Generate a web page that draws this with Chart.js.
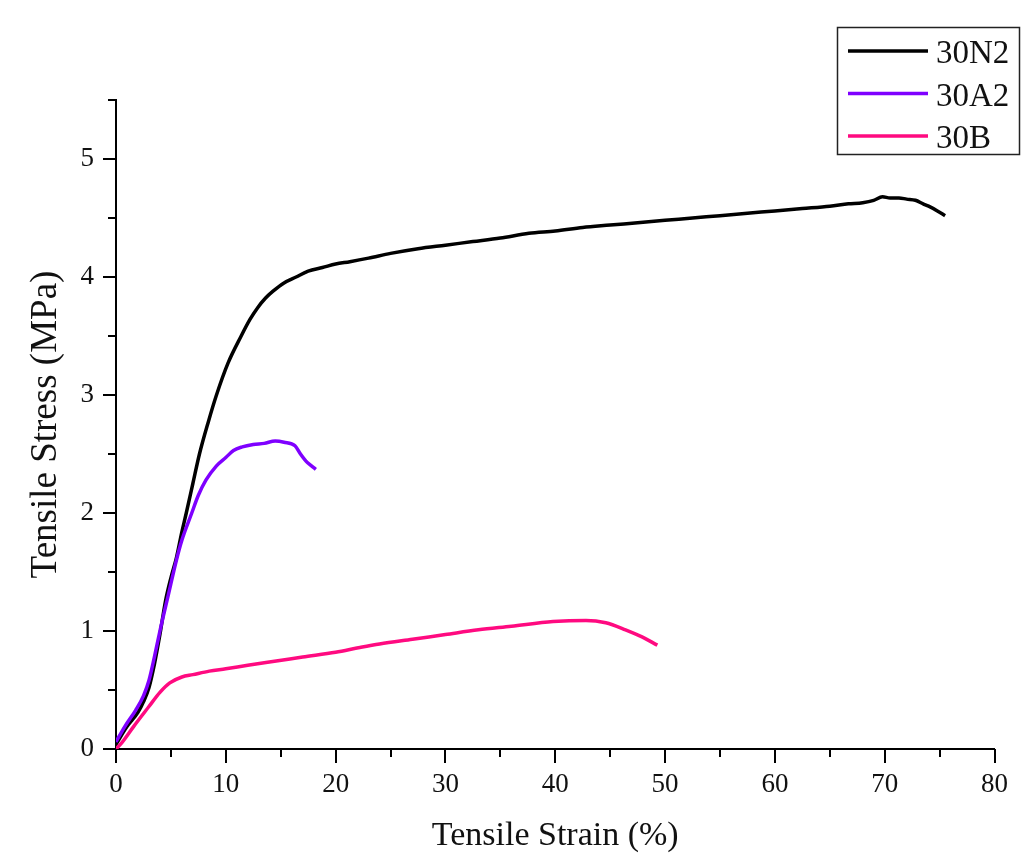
<!DOCTYPE html>
<html>
<head>
<meta charset="utf-8">
<script src="https://cdn.jsdelivr.net/npm/chart.js@4/dist/chart.umd.min.js"></script>
<style>
  html, body { margin: 0; padding: 0; background: #fff; }
  #wrap { width: 1028px; height: 864px; }
</style>
</head>
<body>
<div id="wrap"><canvas id="myChart" width="1028" height="864"></canvas></div>
<script>
// tensile test curves, strain in %, stress in MPa
const seriesNames = ['30N2', '30A2', '30B'];
const seriesColors = ['#000000', '#7f00ff', '#ff0a80'];

const n2Strain = [0, 1, 2, 2.5, 3, 3.5, 4, 4.5, 5, 5.5, 6, 6.4, 7, 7.6, 8.4, 9.15, 10.2, 11.4, 12.2, 12.9, 13.6, 14.3, 15.3, 16.4,
  17.5, 18.8, 20, 21.3, 23, 25, 27.5, 30, 32.5, 35, 37.6, 40, 42.5, 45, 47.5, 50, 52.5, 55, 57.5, 60, 62.5, 65,
  66.7, 68, 69, 69.8, 70.5, 71.3, 72, 72.8, 73.5, 74, 74.8, 75.5];
const n2Stress = [0.04, 0.19, 0.31, 0.4, 0.52, 0.72, 0.97, 1.25, 1.45, 1.62, 1.84, 2.0, 2.25, 2.5, 2.77, 3.0, 3.27, 3.5, 3.64, 3.74, 3.82, 3.88, 3.95, 4.0,
  4.05, 4.08, 4.11, 4.13, 4.16, 4.2, 4.24, 4.27, 4.3, 4.33, 4.37, 4.39, 4.42, 4.44, 4.46, 4.48, 4.5, 4.52, 4.54, 4.56, 4.58, 4.6,
  4.62, 4.63, 4.65, 4.68, 4.67, 4.67, 4.66, 4.65, 4.62, 4.6, 4.56, 4.52];

const a2Strain = [0, 0.8, 1.8, 2.5, 3, 3.5, 4, 4.75, 5.5, 6, 6.9, 7.5, 8.2, 9.15, 10, 10.7, 11.5, 12.5, 13.5, 14.5,
  15.3, 16.3, 16.8, 17.3, 17.8, 18.2];
const a2Stress = [0.06, 0.19, 0.33, 0.45, 0.58, 0.78, 1.0, 1.3, 1.6, 1.77, 2.0, 2.15, 2.28, 2.4, 2.47, 2.53, 2.56, 2.58, 2.59, 2.61,
  2.6, 2.57, 2.5, 2.44, 2.4, 2.37];

const bStrain = [0, 0.5, 1.6, 3, 4, 4.9, 6, 7, 8.5, 10, 12, 14.9, 17, 20, 22.2, 24, 27, 30, 33, 36, 39.8, 42.8,
  44.6, 46.4, 47.9, 49.3];
const bStress = [0, 0.05, 0.19, 0.36, 0.48, 0.56, 0.61, 0.63, 0.66, 0.68, 0.71, 0.75, 0.78, 0.82, 0.86, 0.89, 0.93, 0.97, 1.01, 1.04, 1.08, 1.09,
  1.07, 1.01, 0.95, 0.88];

const xTicks = [0, 10, 20, 30, 40, 50, 60, 70, 80];
const yTicks = [0, 1, 2, 3, 4, 5];

const toPoints = (xs, ys) => xs.map((x, i) => ({ x: x, y: ys[i] }));
const allStrain = [n2Strain, a2Strain, bStrain];
const allStress = [n2Stress, a2Stress, bStress];

const serif = "'Liberation Serif', 'Times New Roman', serif";

// major + minor tick marks drawn outward from the axes
const tickMarks = {
  id: 'tickMarks',
  afterDraw(chart) {
    const ctx = chart.ctx;
    const xs = chart.scales.x, ys = chart.scales.y;
    const area = chart.chartArea;
    ctx.save();
    ctx.strokeStyle = '#000';
    ctx.lineWidth = 2;
    ctx.beginPath();
    for (let v = 0; v <= 80; v += 5) {
      const px = Math.round(xs.getPixelForValue(v));
      const len = v % 10 === 0 ? 14 : 8;
      ctx.moveTo(px, area.bottom);
      ctx.lineTo(px, area.bottom + len);
    }
    for (let v = 0; v <= 5.5; v += 0.5) {
      const py = Math.round(ys.getPixelForValue(v));
      const len = Number.isInteger(v) ? 13 : 8;
      ctx.moveTo(area.left, py);
      ctx.lineTo(area.left - len, py);
    }
    ctx.stroke();
    ctx.restore();
  }
};

// boxed legend in the top-right corner
const boxLegend = {
  id: 'boxLegend',
  afterDraw(chart) {
    const ctx = chart.ctx;
    ctx.save();
    ctx.strokeStyle = '#222';
    ctx.lineWidth = 1.5;
    ctx.strokeRect(837.5, 27.5, 182, 127);
    ctx.font = '33px ' + serif;
    ctx.textBaseline = 'alphabetic';
    ctx.fillStyle = '#111';
    chart.data.datasets.forEach((ds, i) => {
      const y = 51 + i * 42.5;
      ctx.strokeStyle = ds.borderColor;
      ctx.lineWidth = 3.5;
      ctx.beginPath();
      ctx.moveTo(848, y);
      ctx.lineTo(928, y);
      ctx.stroke();
      ctx.fillText(ds.label, 936, y + 12);
    });
    ctx.restore();
  }
};

new Chart(document.getElementById('myChart').getContext('2d'), {
  type: 'scatter',
  data: {
    datasets: seriesNames.map((name, i) => ({
      label: name,
      data: toPoints(allStrain[i], allStress[i]),
      showLine: true,
      borderColor: seriesColors[i],
      backgroundColor: seriesColors[i],
      borderWidth: 3.5,
      pointRadius: 0,
      cubicInterpolationMode: 'monotone',
      order: i === 0 ? 2 : 1
    }))
  },
  options: {
    responsive: false,
    animation: false,
    layout: { padding: { top: 100, right: 32, left: 0, bottom: 0 } },
    plugins: { legend: { display: false }, tooltip: { enabled: false } },
    scales: {
      x: {
        type: 'linear',
        min: 0, max: 80,
        afterFit: s => { s.height = 115; },
        afterBuildTicks: s => { s.ticks = xTicks.map(v => ({ value: v })); },
        grid: { display: true, drawOnChartArea: false, drawTicks: false },
        border: { display: true, color: '#000', width: 2 },
        ticks: { padding: 20, color: '#111', font: { family: serif, size: 27 } },
        title: {
          display: true, text: 'Tensile Strain (%)', color: '#111',
          font: { family: serif, size: 34 }, padding: { top: 0, bottom: 8 }
        }
      },
      y: {
        type: 'linear',
        min: 0, max: 5.5,
        afterFit: s => { s.width = 116; },
        afterBuildTicks: s => { s.ticks = yTicks.map(v => ({ value: v })); },
        grid: { display: true, drawOnChartArea: false, drawTicks: false },
        border: { display: true, color: '#000', width: 2 },
        ticks: { padding: 22, color: '#111', font: { family: serif, size: 27 } },
        title: {
          display: true, text: 'Tensile Stress (MPa)', color: '#111',
          font: { family: serif, size: 37 }, padding: { top: 24, bottom: 0 }
        }
      }
    }
  },
  plugins: [tickMarks, boxLegend]
});
</script>
</body>
</html>
